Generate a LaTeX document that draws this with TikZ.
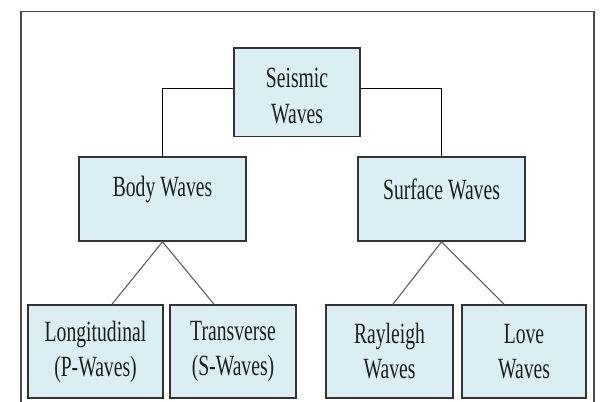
\documentclass[tikz,border=0pt]{standalone}
\usepackage{fontspec}
\setmainfont{Liberation Serif}[FakeStretch=0.67]
\def\pu{0.75pt}
\definecolor{boxfill}{HTML}{DAEEF3}
\definecolor{edge}{HTML}{333333}
\definecolor{framec}{HTML}{4A4A4A}
\definecolor{diag}{HTML}{5A5A5A}
\definecolor{txt}{HTML}{1E1E1E}
\tikzset{
  wbox/.style={draw=edge, line width=1.2pt, fill=boxfill, inner sep=0pt, align=center,
    text=txt, font=\fontsize{22}{26.3}\selectfont},
  wlabel/.style={inner sep=0pt, text=txt, font=\fontsize{22}{26.3}\selectfont, align=center},
  tree/.style={draw=black, line width=0.8pt},
  slant/.style={draw=diag, line width=0.8pt},
}
\begin{document}
\begin{tikzpicture}[x=0.75pt, y=-0.75pt]
\useasboundingbox (0,0) rectangle (600,402);
\fill[white] (0,0) rectangle (600,402);
\draw[framec, line width=1.2pt] (21,420) -- (21,11.5) -- (594,11.5) -- (594,420);

\node[wbox, minimum width=126*\pu, minimum height=88.5*\pu] (seis) at (297,92.25) {};
\node[wlabel] (seist) at (297,96) {Seismic\\Waves};
\node[wbox, minimum width=167*\pu, minimum height=84*\pu] (body) at (162.5,199) {};
\node[wbox, minimum width=167*\pu, minimum height=84*\pu] (surf) at (441.5,199) {};
\node[wlabel] (bodyt) at (162.5,189.5) {Body Waves};
\node[wlabel] (surft) at (441.5,189.5) {Surface Waves};

\node[wbox, minimum width=135*\pu, minimum height=93*\pu] (long) at (95.5,351.5) {Longitudinal\\(P-Waves)};
\node[wbox, minimum width=126*\pu, minimum height=93*\pu] (trans) at (233,351.5) {Transverse\\(S-Waves)};
\node[wbox, minimum width=127*\pu, minimum height=93*\pu] (ray) at (389.5,351.5) {Rayleigh\\Waves};
\node[wbox, minimum width=124*\pu, minimum height=93*\pu] (love) at (524,351.5) {Love\\Waves};

\coordinate (l1) at (112,0);
\coordinate (l2) at (214,0);
\coordinate (l3) at (393,0);
\coordinate (l4) at (504,0);

\draw[tree] ([yshift=3.75*\pu]seis.west) -| (body.north);
\draw[tree] ([yshift=3.75*\pu]seis.east) -| (surf.north);

\draw[slant] (body.south) -- (long.north -| l1);
\draw[slant] (body.south) -- (trans.north -| l2);
\draw[slant] (surf.south) -- (ray.north -| l3);
\draw[slant] (surf.south) -- (love.north -| l4);
\end{tikzpicture}
\end{document}
